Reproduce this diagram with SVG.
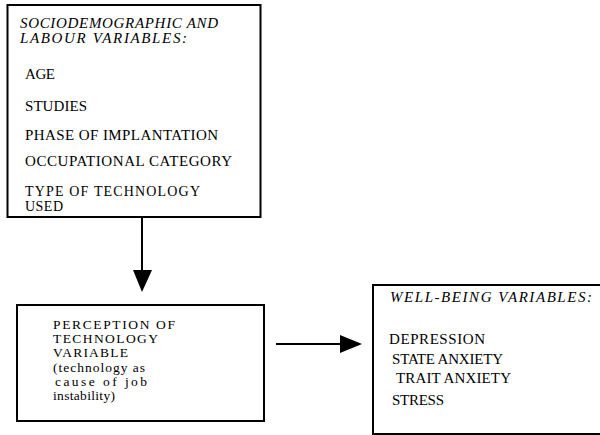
<svg xmlns="http://www.w3.org/2000/svg" width="600" height="435" viewBox="0 0 600 435">
<defs>
<style>
.box{fill:#fff;stroke:#000;stroke-width:2}
.t{font-family:'Liberation Serif',serif;font-size:15px;fill:#000}
.s{font-size:14px}
.p{font-size:13.5px}
.i{font-style:italic}
.c{stroke:#000;stroke-width:2;fill:none}
.h{fill:#000;stroke:none}
</style>
</defs>
<rect width="600" height="435" fill="#fff"/>
<g id="node-sociodemographic">
<rect class="box" x="7.5" y="5" width="253" height="212"/>
<text class="t i" x="20" y="28" textLength="198" lengthAdjust="spacing">SOCIODEMOGRAPHIC AND</text>
<text class="t i" x="20" y="43" textLength="167" lengthAdjust="spacing">LABOUR VARIABLES:</text>
<text class="t" x="25" y="79" textLength="30" lengthAdjust="spacing">AGE</text>
<text class="t" x="25" y="111" textLength="62" lengthAdjust="spacing">STUDIES</text>
<text class="t" x="25" y="140" textLength="193" lengthAdjust="spacing">PHASE OF IMPLANTATION</text>
<text class="t" x="25" y="166" textLength="207" lengthAdjust="spacing">OCCUPATIONAL CATEGORY</text>
<text class="t s" x="25" y="196" textLength="175" lengthAdjust="spacing">TYPE OF TECHNOLOGY</text>
<text class="t s" x="25" y="211" textLength="38" lengthAdjust="spacing">USED</text>
</g>
<g id="node-perception">
<rect class="box" x="17" y="305" width="247" height="116"/>
<text class="t p" x="53" y="329" textLength="122" lengthAdjust="spacing">PERCEPTION OF</text>
<text class="t p" x="53" y="343" textLength="105" lengthAdjust="spacing">TECHNOLOGY</text>
<text class="t p" x="53" y="357" textLength="75" lengthAdjust="spacing">VARIABLE</text>
<text class="t p" x="53" y="372" textLength="92" lengthAdjust="spacing">(technology  as</text>
<text class="t p" x="55" y="386" textLength="92" lengthAdjust="spacing">cause of  job</text>
<text class="t p" x="53" y="400" textLength="62" lengthAdjust="spacing">instability)</text>
</g>
<g id="node-wellbeing">
<rect class="box" x="373" y="285" width="240" height="149"/>
<text class="t i" x="390" y="302" textLength="202" lengthAdjust="spacing">WELL-BEING VARIABLES:</text>
<text class="t" x="389" y="344" textLength="96" lengthAdjust="spacing">DEPRESSION</text>
<text class="t" x="392" y="364" textLength="111" lengthAdjust="spacing">STATE ANXIETY</text>
<text class="t" x="396" y="383" textLength="115" lengthAdjust="spacing">TRAIT ANXIETY</text>
<text class="t" x="392" y="405" textLength="52" lengthAdjust="spacing">STRESS</text>
</g>
<g id="connectors">
<line class="c" x1="142" y1="217" x2="142" y2="272"/>
<polygon class="h" points="133,270 152,270 142,292"/>
<line class="c" x1="276" y1="344" x2="342" y2="344"/>
<polygon class="h" points="340,335 340,353 362,344"/>
</g>
</svg>
